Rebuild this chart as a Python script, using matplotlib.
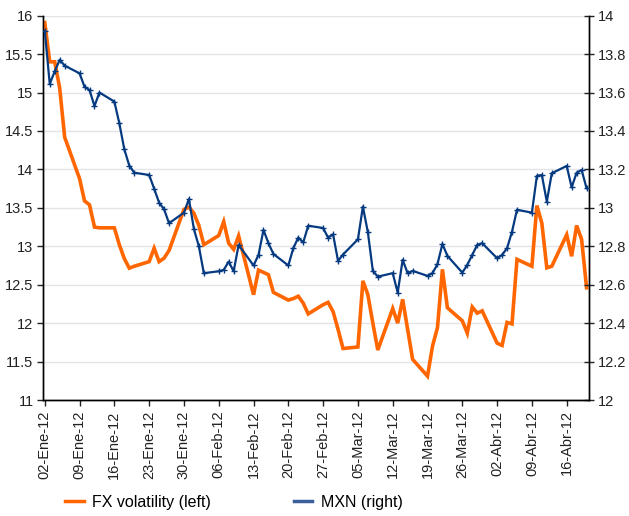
import numpy as np
import pandas as pd
import matplotlib
matplotlib.use('Agg')
import matplotlib.pyplot as plt
import matplotlib.dates as mdates
from matplotlib.ticker import FuncFormatter, MultipleLocator

plt.rcParams['font.family'] = ['Liberation Sans', 'DejaVu Sans']

# business days shown in the chart
dates = pd.bdate_range('2012-01-02', '2012-04-20')

# FX volatility (left axis)
fx_vol = [15.91, 15.40, 15.40, 15.06, 14.42,
          13.88, 13.59, 13.54, 13.25, 13.24,
          13.24, 13.02, 12.84, 12.715, 12.74,
          12.80, 12.975, 12.80, 12.845, 12.945,
          13.48, 13.51, 13.43, 13.27, 13.02,
          13.14, 13.32, 13.04, 12.96, 13.135,
          12.37, 12.69, 12.66, 12.63, 12.40,
          12.30, 12.32, 12.35, 12.26, 12.12,
          12.24, 12.27, 12.15, 11.92, 11.67,
          11.69, 12.55, 12.37, 12.00, 11.65,
          12.19, 12.00, 12.31, 11.92, 11.53,
          11.31, 11.70, 11.94, 12.70, 12.20,
          12.03, 11.87, 12.21, 12.13, 12.16,
          11.74, 11.71, 12.01, 11.99, 12.83,
          12.74, 13.53, 13.30, 12.72, 12.74,
          13.15, 12.87, 13.27, 13.09, 12.46]

# MXN (right axis)
mxn = [13.92, 13.645, 13.71, 13.77, 13.74,
       13.70, 13.63, 13.613, 13.53, 13.60,
       13.553, 13.44, 13.305, 13.22, 13.183,
       13.171, 13.10, 13.027, 12.993, 12.92,
       12.975, 13.046, 12.89, 12.80, 12.66,
       12.67, 12.677, 12.72, 12.67, 12.807,
       12.70, 12.755, 12.885, 12.816, 12.76,
       12.70, 12.79, 12.845, 12.82, 12.907,
       12.895, 12.845, 12.862, 12.724, 12.757,
       12.836, 13.006, 12.873, 12.672, 12.642,
       12.66, 12.559, 12.729, 12.66, 12.672,
       12.646, 12.66, 12.707, 12.812, 12.75,
       12.663, 12.703, 12.755, 12.807, 12.816,
       12.738, 12.755, 12.79, 12.876, 12.99,
       12.975, 13.166, 13.171, 13.032, 13.18,
       13.218, 13.107, 13.183, 13.197, 13.102]

tick_dates = pd.date_range('2012-01-02', '2012-04-16', freq='7D')
month_es = {1: 'Ene', 2: 'Feb', 3: 'Mar', 4: 'Abr'}

orange = '#FF6600'
navy = '#063A80'

fig = plt.figure(figsize=(6.29, 5.16), dpi=100)
ax = fig.add_axes([0.0688, 0.2248, 0.8681, 0.7448])
ax2 = ax.twinx()

ax.plot(dates, fx_vol, color=orange, lw=2.6, solid_joinstyle='miter', zorder=3)
ax2.plot(dates, mxn, color=navy, lw=1.6, marker='+', ms=5, mew=1.0, zorder=3)

ax.set_ylim(11, 16)
ax2.set_ylim(12, 14)
ax.yaxis.set_major_locator(MultipleLocator(0.5))
ax2.yaxis.set_major_locator(MultipleLocator(0.2))
fmt = FuncFormatter(lambda v, p: '%g' % round(v, 2))
ax.yaxis.set_major_formatter(fmt)
ax2.yaxis.set_major_formatter(fmt)

x0 = mdates.date2num(pd.Timestamp('2012-01-02')) - 0.3
x1 = mdates.date2num(pd.Timestamp('2012-04-20')) + 0.55
ax.set_xlim(x0, x1)
ax.set_xticks(tick_dates)
ax.set_xticklabels(['%02d-%s-12' % (d.day, month_es[d.month]) for d in tick_dates],
                   rotation=90)

ax.grid(axis='y', color='#E3E3EA', lw=1.0)
ax.set_axisbelow(True)

for a in (ax, ax2):
    a.spines['top'].set_visible(False)
    for s in ('left', 'right', 'bottom'):
        a.spines[s].set_linewidth(1.0)
        a.spines[s].set_color('black')
ax.tick_params(axis='both', labelsize=10.5, length=4, width=1, colors='#222222')
ax.tick_params(axis='y', pad=3)
ax2.tick_params(axis='y', labelsize=10.5, length=7, width=1, direction='inout',
                colors='#222222', pad=3)

handles = [plt.Line2D([], [], color=orange, lw=2.5),
           plt.Line2D([], [], color='#3A5F9A', lw=2.5)]
fig.legend(handles, ['FX volatility (left)', 'MXN (right)'],
           loc='center left', bbox_to_anchor=(0.081, 0.026), ncol=2,
           frameon=False, fontsize=11.5, handlelength=1.15,
           handletextpad=0.52, columnspacing=5.2)

fig.savefig('out.png', dpi=100)
